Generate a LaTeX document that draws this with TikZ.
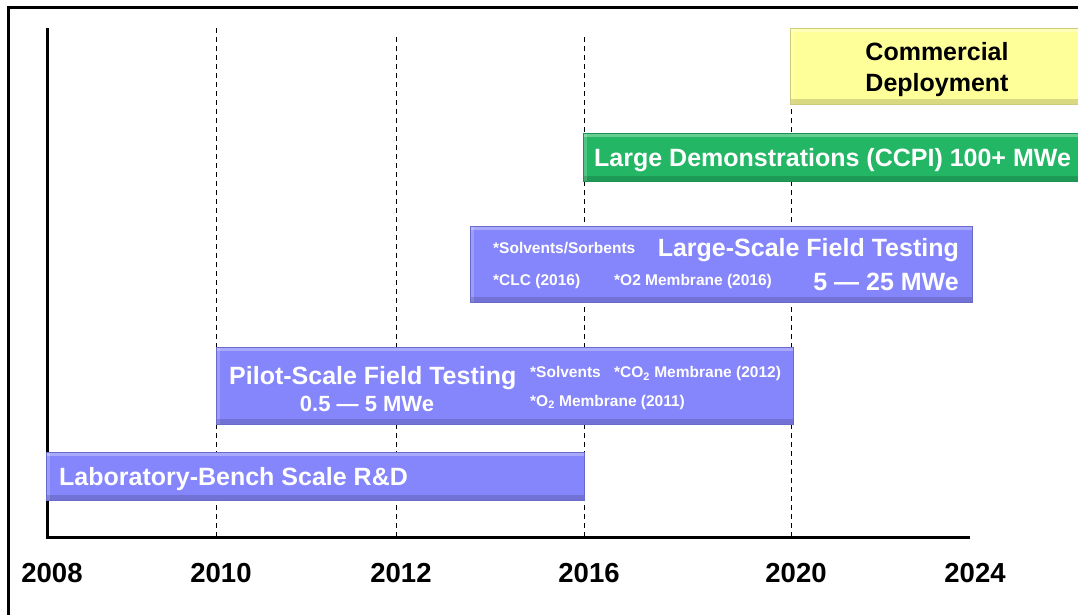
\documentclass[tikz,border=0pt]{standalone}
\usepackage{fontspec}
\setmainfont{Liberation Sans}
\usetikzlibrary{positioning}
\definecolor{benchblue}{RGB}{133,133,252}
\definecolor{ccpigreen}{RGB}{35,182,100}
\definecolor{deployyellow}{RGB}{255,255,153}

\begin{document}
\begin{tikzpicture}[x=1pt,y=-1pt,
  phase/.style={anchor=north west,inner sep=0pt,outer sep=0pt,
    draw=#1!80!black,line width=0.6pt,fill=#1,
    path picture={
      \fill[white,opacity=0.3] (path picture bounding box.north west) rectangle ([yshift=-4pt]path picture bounding box.north east);
      \fill[white,opacity=0.2] (path picture bounding box.north west) rectangle ([xshift=4pt]path picture bounding box.south west);
      \fill[black,opacity=0.15] (path picture bounding box.south west) rectangle ([yshift=5pt]path picture bounding box.south east);
    }},
  bigtxt/.style={font=\fontsize{25}{28}\selectfont\bfseries,text=white,inner sep=0pt},
  midtxt/.style={font=\fontsize{22}{25}\selectfont\bfseries,text=white,inner sep=0pt},
  smalltxt/.style={font=\fontsize{15.5}{18}\selectfont\bfseries,text=white,inner sep=0pt},
  yeartxt/.style={font=\fontsize{27.5}{30}\selectfont\bfseries,inner sep=0pt},
  gridline/.style={line width=1pt,dash pattern=on 5pt off 4pt}]
  \useasboundingbox[fill=white] (0,0) rectangle (1078,614);
  \clip (0,0) rectangle (1078,614);

  % frame
  \draw[line width=3pt] (8,620) -- (8,7) -- (1090,7);

  % year grid
  \coordinate (y2008) at (47,537);
  \coordinate (y2010) at (216,537);
  \coordinate (y2012) at (396,537);
  \coordinate (y2016) at (584,537);
  \coordinate (y2020) at (791,537);
  \coordinate (y2024) at (970,537);
  \draw[gridline] (y2010) -- (216,28);
  \draw[gridline] (y2012) -- (396,37);
  \draw[gridline] (y2016) -- (584,37);
  \draw[gridline] (y2020) -- (791,104);

  % axes
  \draw[line width=3pt] (47,28) -- (y2008) -- (y2024);

  % phases
  \node[phase=benchblue,minimum width=538pt,minimum height=48pt] (bench) at (46,452) {};
  \node[phase=benchblue,minimum width=577pt,minimum height=77pt] (pilot) at (216,347) {};
  \node[phase=benchblue,minimum width=502pt,minimum height=76pt] (large) at (470,226) {};
  \node[phase=ccpigreen,minimum width=520pt,minimum height=48pt] (ccpi) at (583,133) {};
  \node[phase=deployyellow,minimum width=300pt,minimum height=76pt] (deploy) at (790,28) {};

  \node[bigtxt,anchor=base west] (benchlbl) at (59,485) {Laboratory-Bench Scale R\&D};

  \node[bigtxt,anchor=base west] (pilotlbl) at (229,384) {Pilot-Scale Field Testing};
  \node[midtxt,anchor=base] (pilotmwe) at (367,411) {0.5 — 5 MWe};
  \node[smalltxt,anchor=base west] (pilotsolv) at (530,377.5) {*Solvents};
  \node[smalltxt,anchor=base west] (pilotco) at (614,377.5) {*CO\textsubscript{2} Membrane (2012)};
  \node[smalltxt,anchor=base west] (piloto) at (530,406) {*O\textsubscript{2} Membrane (2011)};

  \node[smalltxt,anchor=base west] (largesolv) at (493,253.5) {*Solvents/Sorbents};
  \node[bigtxt,anchor=base east] (largelbl) at (959,256) {Large-Scale Field Testing};
  \node[smalltxt,anchor=base west] (largeclc) at (493,285.5) {*CLC (2016)};
  \node[smalltxt,anchor=base west] (largeo) at (614,285.5) {*O2 Membrane (2016)};
  \node[bigtxt,anchor=base east] (largemwe) at (959,290) {5 — 25 MWe};

  \node[bigtxt,anchor=base west] (ccpilbl) at (594,166) {Large Demonstrations (CCPI) 100+ MWe};

  \node[bigtxt,text=black,anchor=base] (deploylbl) at (937,60) {Commercial};
  \node[bigtxt,text=black,anchor=base] (deploylbltwo) at (937,91) {Deployment};

  % years
  \foreach \yr/\xx in {2008/52,2010/221,2012/401,2016/589,2020/796,2024/975}
    \node[yeartxt,anchor=base] (lbl\yr) at (\xx,582) {\yr};
\end{tikzpicture}
\end{document}
